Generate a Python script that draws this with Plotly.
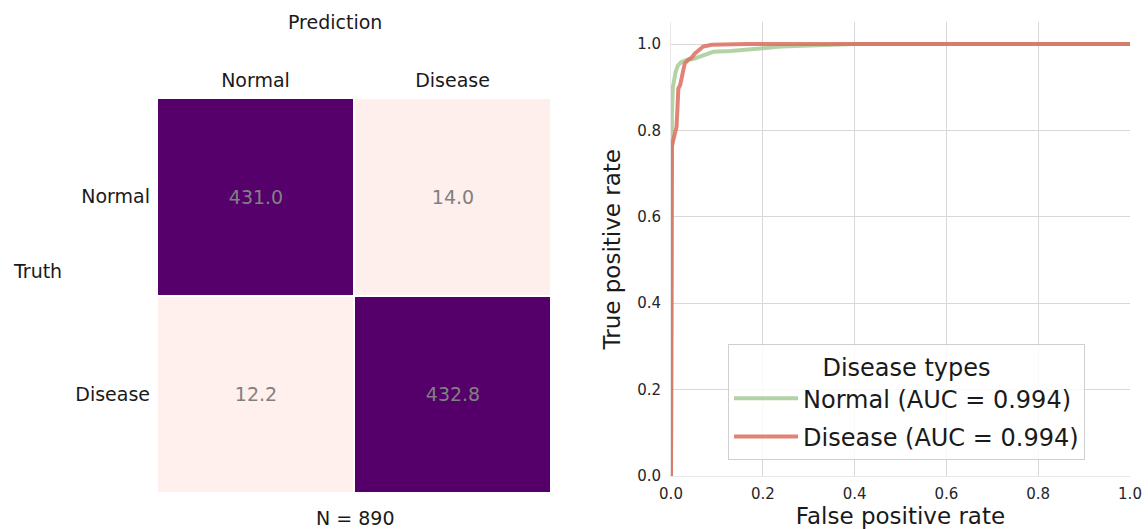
import plotly.graph_objects as go

W, H = 1148, 529

# Confusion matrix data
classes = ["Normal", "Disease"]
cm_values = [[431.0, 14.0], [12.2, 432.8]]
n_total = 890

# ROC curve data
fpr_normal = [0.0, 0.0, 0.0, 0.002, 0.004, 0.006, 0.010, 0.015, 0.022, 0.034, 0.050, 0.063, 0.080, 0.092, 0.130, 0.165, 0.200, 0.240, 0.300, 0.400, 1.0]
tpr_normal = [0.0, 0.60, 0.72, 0.84, 0.90, 0.917, 0.935, 0.950, 0.958, 0.963, 0.966, 0.971, 0.978, 0.982, 0.984, 0.986, 0.990, 0.994, 0.996, 1.0, 1.0]
fpr_disease = [0.0, 0.0, 0.002, 0.002, 0.005, 0.008, 0.012, 0.014, 0.016, 0.020, 0.023, 0.027, 0.030, 0.038, 0.045, 0.052, 0.060, 0.070, 0.089, 0.120, 0.165, 1.0]
tpr_disease = [0.0, 0.60, 0.60, 0.762, 0.778, 0.79, 0.808, 0.85, 0.897, 0.905, 0.917, 0.94, 0.955, 0.964, 0.968, 0.978, 0.985, 0.994, 0.998, 0.999, 1.0, 1.0]
auc_normal = 0.994
auc_disease = 0.994

FONT = "DejaVu Sans"

def px_x(a, b):
    return [a / W, b / W]

def px_y(top, bottom):
    return [(H - bottom) / H, (H - top) / H]

fig = go.Figure()

fig.add_trace(go.Heatmap(
    z=cm_values, x=classes, y=classes,
    colorscale=[[0, "#fff0ed"], [1, "#55006a"]],
    showscale=False, xgap=2, ygap=2,
    texttemplate="%{z:.1f}",
    textfont=dict(family=FONT, size=19, color="#808080"),
    hoverinfo="skip",
    xaxis="x", yaxis="y",
))

fig.add_trace(go.Scatter(
    x=fpr_normal, y=tpr_normal, mode="lines",
    line=dict(color="rgba(160,200,145,0.8)", width=4),
    name=f"Normal (AUC = {auc_normal:.3f})", legendgroup="normal",
    xaxis="x2", yaxis="y2",
))
fig.add_trace(go.Scatter(
    x=fpr_disease, y=tpr_disease, mode="lines",
    line=dict(color="rgba(220,110,95,0.85)", width=4),
    name=f"Disease (AUC = {auc_disease:.3f})", legendgroup="disease",
    xaxis="x2", yaxis="y2",
))

fig.update_layout(
    template="none",
    width=W, height=H,
    margin=dict(l=0, r=0, t=0, b=0, pad=0, autoexpand=False),
    paper_bgcolor="white", plot_bgcolor="white",
    font=dict(family=FONT, color="#262626"),
    xaxis=dict(domain=px_x(157, 551), side="top", showgrid=False, zeroline=False, showline=False,
               ticks="", tickfont=dict(size=19, color="#1a1a1a"), ticklabelstandoff=6,
               anchor="y", automargin=False),
    yaxis=dict(domain=px_y(98, 493), autorange="reversed", showgrid=False, zeroline=False, showline=False,
               ticks="", tickfont=dict(size=19, color="#1a1a1a"), ticklabelstandoff=6,
               anchor="x", automargin=False),
    xaxis2=dict(domain=px_x(671, 1130), range=[0, 1.0], anchor="y2", automargin=False,
                showgrid=True, gridcolor="#d8d8d8", gridwidth=1, zeroline=False,
                showline=True, linecolor="#e8e8e8", linewidth=1, mirror=False,
                dtick=0.2, tickformat=".1f", ticks="", ticklabelstandoff=4,
                tickfont=dict(size=15, color="#262626"),
                title=dict(text="False positive rate", font=dict(size=23, color="#1a1a1a"), standoff=6)),
    yaxis2=dict(domain=px_y(22.4, 476), range=[0, 1.05], anchor="x2", automargin=False,
                showgrid=True, gridcolor="#d8d8d8", gridwidth=1, zeroline=False,
                showline=True, linecolor="#e8e8e8", linewidth=1, mirror=False,
                tickvals=[0, 0.2, 0.4, 0.6, 0.8, 1.0], tickformat=".1f", ticks="", ticklabelstandoff=6,
                tickfont=dict(size=15, color="#262626"),
                title=dict(text="True positive rate", font=dict(size=23, color="#1a1a1a"), standoff=10)),
    showlegend=True,
    legend=dict(
        x=728 / W, y=(H - 344) / H, xanchor="left", yanchor="top",
        bgcolor="rgba(255,255,255,0.85)", bordercolor="#d0d0d0", borderwidth=1,
        font=dict(size=24, color="#1a1a1a"),
        title=dict(text="Disease types", side="top center", font=dict(size=24, color="#1a1a1a")),
        itemwidth=64, tracegroupgap=4,
    ),
    annotations=[
        dict(text="Prediction", x=335 / W, y=(H - 22) / H, xref="paper", yref="paper",
             showarrow=False, font=dict(size=19, color="#1a1a1a"), xanchor="center", yanchor="middle"),
        dict(text="Truth", x=37 / W, y=(H - 271) / H, xref="paper", yref="paper",
             showarrow=False, font=dict(size=19, color="#1a1a1a"), xanchor="center", yanchor="middle"),
        dict(text=f"N = {n_total}", x=355 / W, y=(H - 518) / H, xref="paper", yref="paper",
             showarrow=False, font=dict(size=19, color="#1a1a1a"), xanchor="center", yanchor="middle"),
    ],
)

fig.write_html(
    "out.html",
    config={"displayModeBar": False},
    post_script="document.body.style.margin='0';document.body.style.overflow='hidden';",
)
